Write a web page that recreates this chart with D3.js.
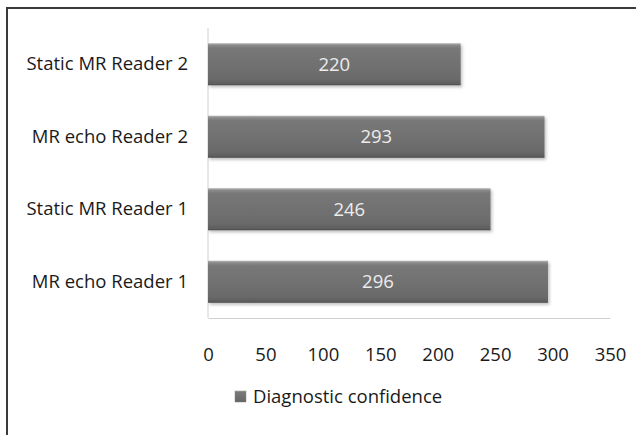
<!DOCTYPE html>
<html>
<head>
<meta charset="utf-8">
<script src="https://cdn.jsdelivr.net/npm/d3@7"></script>
<style>
  html, body { margin: 0; padding: 0; background: #fff; }
  svg { display: block; font-family: "Open Sans", "Noto Sans", sans-serif; }
</style>
</head>
<body>
<svg id="chart" width="636" height="435"></svg>
<script>
// Categories listed bottom to top
const categories = ["MR echo Reader 1", "Static MR Reader 1", "MR echo Reader 2", "Static MR Reader 2"];
const confidence = [296, 246, 293, 220];
const xTicks = [0, 50, 100, 150, 200, 250, 300, 350];
const seriesName = "Diagnostic confidence";

const FONT = "'Open Sans', 'Noto Sans', sans-serif";
const FS = 18.5;

const svg = d3.select("#chart");

// outer frame (extends past the right and bottom edges)
svg.append("rect")
  .attr("x", 7).attr("y", 8)
  .attr("width", 700).attr("height", 500)
  .attr("fill", "none")
  .attr("stroke", "#3a3a3a")
  .attr("stroke-width", 2);

const plot = { left: 208, right: 610, top: 28, bottom: 318 };

const x = d3.scaleLinear().domain([0, 350]).range([plot.left, plot.right]);
const y = d3.scaleBand()
  .domain(categories.slice().reverse())
  .range([plot.top, plot.bottom])
  .paddingInner(0.42)
  .paddingOuter(0.21);

const defs = svg.append("defs");
const grad = defs.append("linearGradient")
  .attr("id", "barFill").attr("x1", 0).attr("y1", 0).attr("x2", 0).attr("y2", 1);
[["0%", "#b4b4b4"], ["5%", "#8a8a8a"], ["12%", "#787878"], ["85%", "#6a6a6a"], ["96%", "#5e5e5e"], ["100%", "#4a4a4a"]]
  .forEach(([o, c]) => grad.append("stop").attr("offset", o).attr("stop-color", c));

const shadow = defs.append("filter").attr("id", "barShadow")
  .attr("x", "-5%").attr("y", "-20%").attr("width", "115%").attr("height", "150%");
shadow.append("feDropShadow")
  .attr("dx", 1.5).attr("dy", 2).attr("stdDeviation", 1.5)
  .attr("flood-color", "#000").attr("flood-opacity", 0.25);

// axis lines
svg.append("line")
  .attr("x1", plot.left).attr("x2", plot.left)
  .attr("y1", plot.top).attr("y2", plot.bottom)
  .attr("stroke", "#d0d0d0").attr("stroke-width", 1);

const xAxis = d3.axisBottom(x).tickValues(xTicks).tickSize(0).tickPadding(30);
const gx = svg.append("g")
  .attr("transform", `translate(0,${plot.bottom})`)
  .call(xAxis);
gx.select(".domain").attr("stroke", "#d0d0d0");
gx.selectAll("text")
  .attr("font-size", FS).attr("fill", "#1a1a1a")
  .attr("font-family", FONT);

const yAxis = d3.axisLeft(y).tickSize(0).tickPadding(20);
const gy = svg.append("g")
  .attr("transform", `translate(${plot.left},0)`)
  .call(yAxis);
gy.select(".domain").remove();
gy.selectAll("text")
  .attr("font-size", FS).attr("fill", "#1a1a1a")
  .attr("font-family", FONT);

const data = categories.map((c, i) => ({ cat: c, value: confidence[i] }));

svg.append("g").selectAll("rect")
  .data(data).join("rect")
  .attr("x", x(0))
  .attr("y", d => y(d.cat))
  .attr("width", d => x(d.value) - x(0))
  .attr("height", y.bandwidth())
  .attr("fill", "url(#barFill)")
  .attr("filter", "url(#barShadow)");

svg.append("g").selectAll("text")
  .data(data).join("text")
  .attr("x", d => (x(0) + x(d.value)) / 2)
  .attr("y", d => y(d.cat) + y.bandwidth() / 2)
  .attr("dy", "0.35em")
  .attr("text-anchor", "middle")
  .attr("font-size", FS)
  .attr("fill", "#ececec")
  .text(d => d.value);

// legend
const lg = svg.append("g").attr("transform", "translate(235,391)");
lg.append("rect")
  .attr("width", 11).attr("height", 11)
  .attr("fill", "url(#barFill)")
  .attr("stroke", "#888").attr("stroke-width", 0.5);
lg.append("text")
  .attr("x", 18).attr("y", 5.5).attr("dy", "0.35em")
  .attr("font-size", FS).attr("fill", "#1a1a1a")
  .text(seriesName);
</script>
</body>
</html>
